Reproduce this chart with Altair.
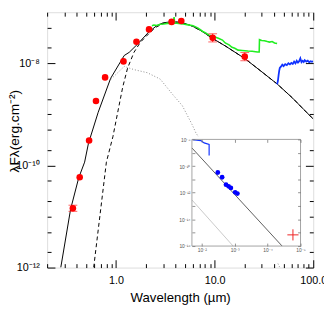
import math
import altair as alt
import pandas as pd

# ---------------- main panel data (wavelength in micron, lambda*F_lambda) -------------
phot_lam = [0.365, 0.428, 0.533, 0.626, 0.774, 1.19, 1.61, 2.16, 3.66, 4.59, 9.55, 20.2]
phot_flux = [1.45e-11, 5.89e-11, 3.08e-10, 1.83e-9, 5.30e-9, 1.09e-8, 2.65e-8, 4.61e-8,
             6.47e-8, 6.75e-8, 3.15e-8, 1.35e-8]
phot_err_dex = [0.06, 0, 0, 0, 0, 0, 0, 0, 0, 0, 0.08, 0.08]

model_lam = [0.275, 0.346, 0.418, 0.48, 0.525, 0.659, 0.881, 1.21, 1.36, 1.64, 2.15, 2.59,
             3.0, 3.6, 4.2, 5.0, 6.0, 7.5, 9.46, 13.0, 20.2, 29.2, 43.3, 61.8, 80, 100]
model_flux = [1.0e-12, 1.39e-11, 5.71e-11, 1.16e-10, 2.71e-10, 1.10e-9, 5.07e-9, 1.42e-8,
              1.64e-8, 2.34e-8, 4.11e-8, 5.46e-8, 6.2e-8, 6.5e-8, 6.4e-8, 6.0e-8, 5.3e-8,
              4.2e-8, 3.10e-8, 2.15e-8, 1.24e-8, 7.13e-9, 3.9e-9, 2.08e-9, 1.25e-9, 8.13e-10]

dashed_lam = [0.593, 0.798, 0.929, 1.04, 1.17, 1.31, 1.52, 1.77, 2.15, 2.5, 3.0, 3.6, 4.2,
              5.0, 6.0, 7.5, 9.46, 13.0, 20.2, 29.2, 43.3, 61.8, 80, 100]
dashed_flux = [1.0e-12, 1.16e-10, 3.65e-10, 1.10e-9, 3.46e-9, 8.09e-9, 1.64e-8, 2.6e-8,
               3.8e-8, 5.0e-8, 6.0e-8, 6.45e-8, 6.4e-8, 6.0e-8, 5.3e-8, 4.2e-8, 3.10e-8,
               2.15e-8, 1.24e-8, 7.13e-9, 3.9e-9, 2.08e-9, 1.25e-9, 8.13e-10]

dotted_lam = [0.893, 1.21, 1.52, 2.07, 2.80, 3.74, 4.70, 5.90, 6.46, 39.1, 45.9]
dotted_flux = [4.92e-9, 8.69e-9, 7.52e-9, 6.55e-9, 4.92e-9, 2.47e-9, 1.48e-9, 6.34e-10,
               4.33e-10, 1.89e-12, 1.0e-12]

green_lam = [2.31, 2.42, 2.6, 2.8, 3.04, 3.3, 3.55, 3.8, 3.88, 3.93, 4.0, 4.3, 4.81, 5.4,
             6.04, 6.8, 7.58, 8.1, 8.69, 9.6, 10.9, 12.0, 12.8, 14.0, 15.0, 16.0, 17.3, 19.0,
             21.7, 24.0, 26.0, 27.2, 28.3, 28.5, 30.0, 32.0, 34.2, 36.0, 38.3, 40.5, 43.0]
green_flux = [5.46e-8, 5.6e-8, 5.5e-8, 5.8e-8, 5.9e-8, 6.05e-8, 6.0e-8, 6.2e-8, 8.0e-8,
              6.1e-8, 6.15e-8, 6.05e-8, 5.9e-8, 5.65e-8, 5.46e-8, 4.9e-8, 4.2e-8, 3.95e-8,
              3.6e-8, 3.4e-8, 3.1e-8, 2.85e-8, 2.5e-8, 2.3e-8, 2.06e-8, 1.97e-8, 1.81e-8,
              1.78e-8, 1.74e-8, 1.72e-8, 1.68e-8, 1.66e-8, 1.67e-8, 2.9e-8, 2.8e-8, 2.76e-8,
              2.66e-8, 2.6e-8, 2.66e-8, 2.5e-8, 2.44e-8]

blue_lam = [43, 43.8, 44.6, 45.2, 45.8, 47, 48.5, 50, 52, 54, 56, 58, 60, 62, 64, 66, 68,
            70, 72, 74, 76, 78, 80, 82, 85, 88, 91, 94, 97, 100]
blue_flux = [3.9e-9, 4.5e-9, 6.0e-9, 7.2e-9, 8.1e-9, 8.6e-9, 9.4e-9, 8.8e-9, 9.6e-9, 9.2e-9,
             1.0e-8, 9.5e-9, 1.02e-8, 9.7e-9, 1.08e-8, 1.0e-8, 1.12e-8, 1.03e-8, 1.1e-8,
             1.25e-8, 1.05e-8, 1.12e-8, 1.06e-8, 1.15e-8, 1.08e-8, 1.13e-8, 1.05e-8, 1.1e-8,
             1.07e-8, 1.1e-8]

# ---------------- inset data (x axis in 1/micron) ----------------
in_model_x = [0.02, 3.63e-5]
in_model_y = [2.29e-9, 1.0e-16]
in_dot_x = [0.02, 1.12e-3]
in_dot_y = [2.88e-13, 1.0e-16]
in_blue_x = [0.019, 0.0107, 8.5e-3, 6.0e-3, 6.0e-3]
in_blue_y = [9.5e-9, 8.1e-9, 5.5e-9, 4.2e-9, 6.2e-10]
in_pts_x = [3.27e-3, 2.42e-3, 1.84e-3, 1.54e-3, 1.31e-3, 9.7e-4, 8.3e-4]
in_pts_y = [3.3e-11, 1.45e-11, 4.0e-12, 3.0e-12, 2.3e-12, 1.07e-12, 8.7e-13]
in_plus_x = [1.7e-5]
in_plus_y = [6.9e-16]

# axis ranges and ticks
X_DOM = [0.2, 100]
Y_DOM = [1e-12, 1e-7]
x_major = [1, 10, 100]
x_minor = [0.2, 0.3, 0.4, 0.5, 0.6, 0.7, 0.8, 0.9, 2, 3, 4, 5, 6, 7, 8, 9,
           20, 30, 40, 50, 60, 70, 80, 90]
y_major = [1e-12, 1e-10, 1e-8]
y_minor = [2e-12, 5e-12, 1e-11, 2e-11, 5e-11, 2e-10, 5e-10, 1e-9, 2e-9, 5e-9, 2e-8, 5e-8]
IX_DOM = [1e-5, 0.02]
IY_DOM = [1e-16, 1e-8]
ix_ticks = [1e-2, 1e-3, 1e-4, 1e-5]
iy_ticks = [1e-8, 1e-9, 1e-10, 1e-11, 1e-12, 1e-13, 1e-14, 1e-15, 1e-16]
iy_labelled = [1e-8, 1e-10, 1e-12, 1e-14, 1e-16]
inset_bg_x = [0.052, 7.1e-6]
inset_bg_y = [5.6e-18, 1.6e-8]

# ---------------- layout ----------------
W, H = 272, 261
MAJ, MIN = 8, 4
FONT = "Liberation Sans"
IN_L, IN_R, IN_T, IN_B = 148, 259, 130, 239
ITS = 3

SUP = str.maketrans("-0123456789", "⁻⁰¹²³⁴⁵⁶⁷⁸⁹")


def pow_label(v):
    return "10" + str(int(round(math.log10(v)))).translate(SUP)


def lab_expr(values, labelled):
    expr = "''"
    for v in reversed(values):
        lab = pow_label(v) if v in labelled else ""
        e = math.log10(v)
        expr = f"(abs(log(datum.value)/LN10 - ({e:.4f})) < 0.01 ? '{lab}' : {expr})"
    return expr


common = dict(domain=False, grid=False, zindex=1, labelFont=FONT, tickColor="black",
              labelColor="black", tickWidth=1)

AX_XB = alt.Axis(orient="bottom", values=x_major, format=".1f", offset=-MAJ, tickSize=MAJ,
                 labelPadding=7, labelFontSize=11, labelFlush=False, labelOverlap=False,
                 title="Wavelength (µm)", titleFont=FONT, titleFontSize=13.5,
                 titleFontWeight="normal", titleColor="black", titleY=43,
                 titleBaseline="alphabetic", **common)
AX_YL = alt.Axis(orient="left", values=y_major, labelExpr=lab_expr(y_major, y_major),
                 offset=-MAJ, tickSize=MAJ, labelPadding=8, labelFontSize=11,
                 labelOverlap=False, labelFlush=False,
                 title="λFλ(erg.cm⁻²)", titleFont=FONT, titleFontSize=14,
                 titleFontWeight="normal", titleColor="black", titleX=-41, titleY=121,
                 titleAngle=270, titleBaseline="middle", titleAlign="center", **common)
AX_XB_MIN = alt.Axis(orient="bottom", values=x_minor, offset=-MIN, tickSize=MIN, labels=False,
                     title=None, **common)
AX_YL_MIN = alt.Axis(orient="left", values=y_minor, offset=-MIN, tickSize=MIN, labels=False,
                     title=None, **common)
AX_XT = alt.Axis(orient="top", values=x_major, offset=-MAJ, tickSize=MAJ, labels=False,
                 title=None, **common)
AX_YR = alt.Axis(orient="right", values=y_major, offset=-MAJ, tickSize=MAJ, labels=False,
                 title=None, **common)
AX_XT_MIN = alt.Axis(orient="top", values=x_minor, offset=-MIN, tickSize=MIN, labels=False,
                     title=None, **common)
AX_YR_MIN = alt.Axis(orient="right", values=y_minor, offset=-MIN, tickSize=MIN, labels=False,
                     title=None, **common)

in_common = dict(domain=False, grid=False, zindex=1, labelFont=FONT, tickColor="#777777",
                 labelColor="#555555", tickWidth=0.8, title=None, labelFontSize=5,
                 labelOverlap=False, labelFlush=False)
AX_XI = alt.Axis(orient="bottom", values=ix_ticks, labelExpr=lab_expr(ix_ticks, ix_ticks),
                 offset=(IN_B - ITS) - H, tickSize=ITS, labelPadding=2, **in_common)
AX_YI = alt.Axis(orient="left", values=iy_ticks, labelExpr=lab_expr(iy_ticks, iy_labelled),
                 offset=-(IN_L + ITS), tickSize=ITS, labelPadding=2, **in_common)
AX_XI_T = alt.Axis(orient="top", values=ix_ticks, offset=-(IN_T + ITS), tickSize=ITS,
                   labels=False, **in_common)
AX_YI_R = alt.Axis(orient="right", values=iy_ticks, offset=(IN_R - ITS) - W, tickSize=ITS,
                   labels=False, **in_common)

SX = alt.Scale(type="log", domain=X_DOM, nice=False)
SY = alt.Scale(type="log", domain=Y_DOM, nice=False)
SXI = alt.Scale(type="log", domain=IX_DOM, range=[IN_R, IN_L], nice=False)
SYI = alt.Scale(type="log", domain=IY_DOM, range=[IN_B, IN_T], nice=False)


def xy(xs, ys):
    return pd.DataFrame({"x": xs, "y": ys})


XM = alt.X("x:Q", scale=SX, axis=AX_XB)
YM = alt.Y("y:Q", scale=SY, axis=AX_YL)

model = alt.Chart(xy(model_lam, model_flux)).mark_line(
    color="black", strokeWidth=1, clip=True).encode(x=XM, y=YM)
dashed = alt.Chart(xy(dashed_lam, dashed_flux)).mark_line(
    color="black", strokeWidth=1, strokeDash=[4, 3], clip=True).encode(x=XM, y=YM)
dotted = alt.Chart(xy(dotted_lam, dotted_flux)).mark_line(
    color="#8a8a8a", strokeWidth=1, strokeDash=[1, 2], clip=True).encode(x=XM, y=YM)
green = alt.Chart(xy(green_lam, green_flux)).mark_line(
    color="#22ee22", strokeWidth=1.6, clip=True).encode(x=XM, y=YM)
blue = alt.Chart(xy(blue_lam, blue_flux)).mark_line(
    color="#1133ff", strokeWidth=1.8, clip=True).encode(x=XM, y=YM)

err_rows = [(l, f * 10 ** (-e), f * 10 ** e) for l, f, e in zip(phot_lam, phot_flux, phot_err_dex) if e > 0]
err_df = pd.DataFrame({"x": [r[0] for r in err_rows], "y": [r[1] for r in err_rows],
                       "y2": [r[2] for r in err_rows]})
caps_df = pd.DataFrame({"x": [r[0] for r in err_rows] * 2,
                        "y": [r[1] for r in err_rows] + [r[2] for r in err_rows]})
err = alt.Chart(err_df).mark_rule(color="#ff2020", strokeWidth=1).encode(
    x=XM, y=YM, y2=alt.Y2("y2:Q"))
caps = alt.Chart(caps_df).mark_tick(color="#ff2020", orient="horizontal", size=9,
                                    thickness=1).encode(x=XM, y=YM)
pts = alt.Chart(xy(phot_lam, phot_flux)).mark_circle(
    color="#ff0000", size=45, opacity=1).encode(x=XM, y=YM)

main = alt.layer(model, dashed, dotted, green, blue, err, caps, pts)

dom_df = xy(X_DOM, Y_DOM)


def tick_layer(ax, ay):
    return alt.Chart(dom_df).mark_point(opacity=0).encode(
        x=alt.X("x:Q", scale=SX, axis=ax), y=alt.Y("y:Q", scale=SY, axis=ay))


t_minor = tick_layer(AX_XB_MIN, AX_YL_MIN)
t_top = tick_layer(AX_XT, AX_YR)
t_topmin = tick_layer(AX_XT_MIN, AX_YR_MIN)

# ---------------- inset ----------------
XI = alt.X("x:Q", scale=SXI, axis=AX_XI)
YI = alt.Y("y:Q", scale=SYI, axis=AX_YI)

bg = alt.Chart(pd.DataFrame({"x": [inset_bg_x[0]], "x2": [inset_bg_x[1]],
                             "y": [inset_bg_y[0]], "y2": [inset_bg_y[1]]})).mark_rect(
    fill="white").encode(x=XI, x2="x2:Q", y=YI, y2="y2:Q")
frame = alt.Chart(pd.DataFrame({"x": [IX_DOM[1]], "x2": [IX_DOM[0]],
                                "y": [IY_DOM[0]], "y2": [IY_DOM[1]]})).mark_rect(
    fill="white", fillOpacity=0, stroke="#999999", strokeWidth=0.9).encode(
    x=XI, x2="x2:Q", y=YI, y2="y2:Q")
in_model = alt.Chart(xy(in_model_x, in_model_y)).mark_line(
    color="#333333", strokeWidth=0.8).encode(x=XI, y=YI)
in_dot = alt.Chart(xy(in_dot_x, in_dot_y)).mark_line(
    color="#bbbbbb", strokeWidth=0.8).encode(x=XI, y=YI)
in_blue = alt.Chart(xy(in_blue_x, in_blue_y)).mark_line(
    color="#1133ff", strokeWidth=1.2).encode(x=XI, y=YI)
in_pts = alt.Chart(xy(in_pts_x, in_pts_y)).mark_circle(
    color="#0000ff", size=24, opacity=1).encode(x=XI, y=YI)
in_plus = alt.Chart(xy(in_plus_x, in_plus_y)).mark_point(
    shape="M -1 0 L 1 0 M 0 -1 L 0 1", filled=False, color="#ee2222", strokeWidth=1,
    size=130, opacity=1).encode(x=XI, y=YI)

inset = alt.layer(bg, in_dot, in_model, in_blue, in_pts, in_plus, frame)

in_dom_df = xy(IX_DOM, IY_DOM)
inset_tr = alt.Chart(in_dom_df).mark_point(opacity=0).encode(
    x=alt.X("x:Q", scale=SXI, axis=AX_XI_T), y=alt.Y("y:Q", scale=SYI, axis=AX_YI_R))

chart = alt.layer(main, t_minor, t_top, t_topmin, inset, inset_tr).resolve_scale(
    x="independent", y="independent"
).properties(
    width=W, height=H,
    padding={"left": 40, "top": 1, "right": 11, "bottom": 38},
    autosize=alt.AutoSizeParams(type="none"),
).configure_view(stroke="black", strokeWidth=1).configure(background="white")

chart.save("out.html", embed_options={"renderer": "svg", "actions": False})
